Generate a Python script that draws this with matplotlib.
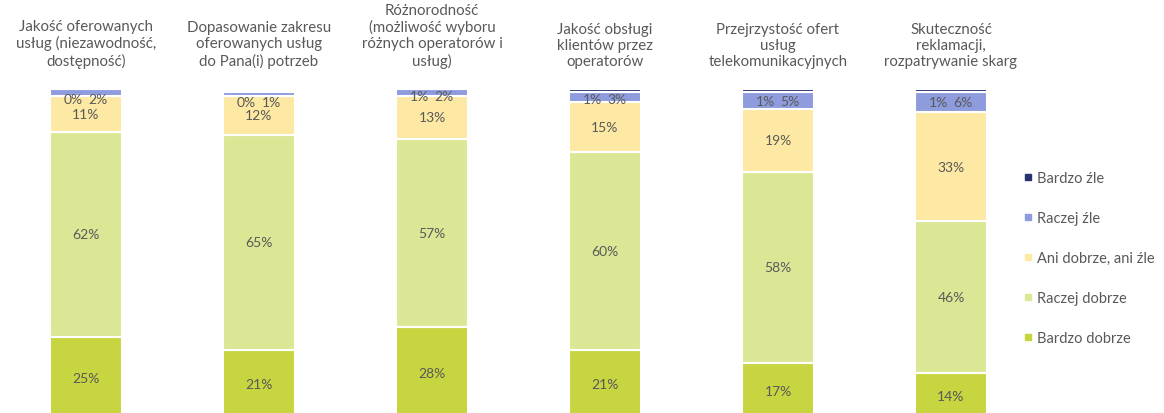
import matplotlib
matplotlib.use("Agg")
import matplotlib.pyplot as plt
import numpy as np
from matplotlib.lines import Line2D

# --- dane ---
categories = [
    "Jakość oferowanych\nusług (niezawodność,\ndostępność)",
    "Dopasowanie zakresu\noferowanych usług\ndo Pana(i) potrzeb",
    "Różnorodność\n(możliwość wyboru\nróżnych operatorów i\nusług)",
    "Jakość obsługi\nklientów przez\noperatorów",
    "Przejrzystość ofert\nusług\ntelekomunikacyjnych",
    "Skuteczność\nreklamacji,\nrozpatrywanie skarg",
]
bardzo_dobrze = [25, 21, 28, 21, 17, 14]
raczej_dobrze = [62, 65, 57, 60, 58, 46]
ani_ani = [11, 12, 13, 15, 19, 33]
raczej_zle = [2, 1, 2, 3, 5, 6]
bardzo_zle = [0, 0, 1, 1, 1, 1]

series_names = ["Bardzo dobrze", "Raczej dobrze", "Ani dobrze, ani źle",
                "Raczej źle", "Bardzo źle"]
colors = ["#c6d540", "#dce796", "#fde9a3", "#8e9bdc", "#27336f"]
text_color = "#595959"

plt.rcParams["font.family"] = ["Lato", "DejaVu Sans"]

fig = plt.figure(figsize=(11.64, 4.14), dpi=100)
ax = fig.add_axes([0, -0.0145, 1000 / 1164, 0.797])

x = np.arange(len(categories))
series = [bardzo_dobrze, raczej_dobrze, ani_ani, raczej_zle, bardzo_zle]
bottom = np.zeros(len(categories))
for vals, col in zip(series, colors):
    ax.bar(x, vals, bottom=bottom, width=0.42, color=col,
           edgecolor="white", linewidth=1.5)
    bottom += np.array(vals)

# etykiety dużych segmentów
base = np.zeros(len(categories))
for vals in series[:3]:
    for i, v in enumerate(vals):
        ax.text(x[i], base[i] + v / 2, f"{v}%", ha="center", va="center",
                fontsize=10, color=text_color)
    base += np.array(vals)

# etykiety małych segmentów (Bardzo źle / Raczej źle) u góry słupka
for i in range(len(categories)):
    top = base[i] + raczej_zle[i] + bardzo_zle[i]
    y = min(base[i] + raczej_zle[i] / 2, top - 3.0)
    ax.text(x[i] - 0.075, y, f"{bardzo_zle[i]}%", ha="center", va="center",
            fontsize=10, color=text_color)
    ax.text(x[i] + 0.07, y, f"{raczej_zle[i]}%", ha="center", va="center",
            fontsize=10, color=text_color)

# tytuły kategorii nad słupkami
for i, cat in enumerate(categories):
    ax.text(x[i], 106.5, cat, ha="center", va="bottom", fontsize=10.8,
            color=text_color, linespacing=1.18)

ax.set_xlim(-86 / 173, 914 / 173)
ax.set_ylim(0, 100)
ax.axis("off")

handles = [Line2D([], [], marker="s", linestyle="none", markersize=4,
                  color=c) for c in colors[::-1]]
fig.legend(handles, series_names[::-1], loc="upper left",
           bbox_to_anchor=(1009 / 1164, 1 - 159 / 414), frameon=False,
           fontsize=10.5, labelcolor=text_color, handletextpad=0.2,
           handlelength=0.8, labelspacing=1.78)

fig.savefig("out.png", dpi=100)
